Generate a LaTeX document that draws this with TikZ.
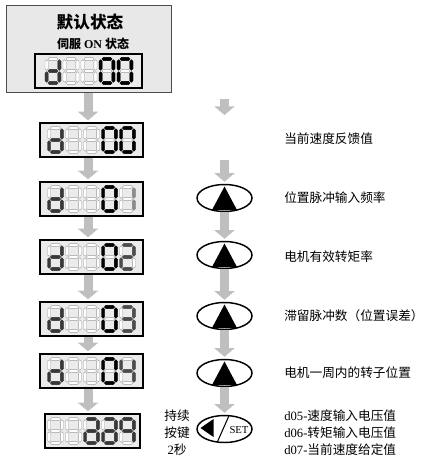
\documentclass[tikz,border=0pt]{standalone}
\usepackage{fontspec}
\setmainfont{Liberation Serif}
\newfontfamily\cjk{Noto Sans CJK SC}
\usetikzlibrary{shapes.geometric,arrows.meta,calc}

\newcommand\hsg[2]{\path[#2] (-5.2,#1) -- (-3.6,#1-1.6) -- (3.6,#1-1.6) -- (5.2,#1) -- (3.6,#1+1.6) -- (-3.6,#1+1.6) -- cycle;}
\newcommand\vsg[3]{\path[#3] (#1,#2-5.3) -- (#1+1.6,#2-3.7) -- (#1+1.6,#2+3.7) -- (#1,#2+5.3) -- (#1-1.6,#2+3.7) -- (#1-1.6,#2-3.7) -- cycle;}
\newcommand\sega[1]{\hsg{-12}{#1}}
\newcommand\segb[1]{\vsg{6.4}{-6}{#1}}
\newcommand\segc[1]{\vsg{6.4}{6}{#1}}
\newcommand\segd[1]{\hsg{12}{#1}}
\newcommand\sege[1]{\vsg{-6.4}{6}{#1}}
\newcommand\segf[1]{\vsg{-6.4}{-6}{#1}}
\newcommand\segg[1]{\hsg{0}{#1}}
\newcommand\segx[1]{}
\newcommand\sdigit[3]{\begin{scope}[shift={#1}]
  \foreach \s in {a,b,c,d,e,f,g}{\csname seg\s\endcsname{offseg}}
  \foreach \s in {#2}{\csname seg\s\endcsname{#3}}
\end{scope}}
\newcommand\blinkmarks[1]{\begin{scope}[shift={#1}, blinkmark]
  \path (-10.5,-15) -- (-7,-15) -- (-10.5,-11.5) -- cycle;
  \path (10.5,-15) -- (7,-15) -- (10.5,-11.5) -- cycle;
  \path (-10.5,15) -- (-7,15) -- (-10.5,11.5) -- cycle;
  \path (10.5,15) -- (7,15) -- (10.5,11.5) -- cycle;
  \path (-11.5,0) -- (-8.5,-2) -- (-8.5,2) -- cycle;
  \path (11.5,0) -- (8.5,-2) -- (8.5,2) -- cycle;
\end{scope}}
\newcommand\basepanel[2]{%
  \sdigit{(#1-36,#2)}{b,c,d,e,g}{darkseg}
  \sdigit{(#1-18,#2)}{x}{darkseg}
  \sdigit{(#1,#2)}{x}{darkseg}
  \sdigit{(#1+18,#2)}{a,b,c,d,e,f}{blackseg}}

\begin{document}
\begin{tikzpicture}[x=0.75pt,y=-0.75pt,
  offseg/.style={fill=white,draw=black!40,line width=0.3pt},
  blackseg/.style={fill=black,draw=black,line width=0.3pt},
  darkseg/.style={fill=black!78,draw=black!78,line width=0.3pt},
  blinkseg/.style={fill=black!70,draw=black!70,line width=0.3pt},
  lightseg/.style={fill=black!45,draw=black!45,line width=0.3pt},
  blinkmark/.style={draw=black,fill=white,line width=0.35pt},
  disp/.style={draw=black,line width=1pt,fill=black!8,inner sep=0pt,minimum height=34*0.75pt,minimum width=103*0.75pt},
  garrow/.style={draw=black!25,line width=9*0.75pt,-{Triangle[length=6.5pt,width=15pt]},shorten >=1.5pt},
  keyell/.style={ellipse,draw=black,line width=1.1pt,fill=white,inner sep=0pt,minimum width=55*0.75pt,minimum height=27*0.75pt},
  txt/.style={font=\fontsize{9.5pt}{12pt}\selectfont,inner sep=0pt}]
\useasboundingbox (0,0) rectangle (423,457);

% top box
\node[draw=black!70,line width=1.4pt,fill=black!9,minimum width=165*0.75pt,minimum height=87*0.75pt,inner sep=0pt] (top) at (89,49) {};
\node[font=\fontsize{12.5pt}{14pt}\selectfont\bfseries\cjk,inner sep=0pt] (t0) at (90,22) {默认状态};
\node[font=\fontsize{9pt}{11pt}\selectfont\bfseries,inner sep=0pt] (t00) at (93,44) {{\cjk 伺服} ON {\cjk 状态}};

% displays
\node[disp,minimum width=107*0.75pt] (d1) at (88.5,71) {};
\node[disp] (d2) at (91.5,140) {};
\node[disp] (d3) at (91.5,199) {};
\node[disp] (d4) at (91.5,257) {};
\node[disp] (d5) at (91.5,319) {};
\node[disp] (d6) at (91.5,371) {};
\node[disp,minimum width=95*0.75pt] (d7) at (92.5,431) {};

% digits
\basepanel{89}{71}
\sdigit{(89+36,71)}{a,b,c,d,e,f}{blackseg}
\basepanel{91.5}{140}
\sdigit{(91.5+36,140)}{a,b,c,d,e,f}{blackseg}
\basepanel{91.5}{199}
\sdigit{(91.5+36,199)}{b,c}{lightseg}
\blinkmarks{(91.5+36,199)}
\basepanel{91.5}{257}
\sdigit{(91.5+36,257)}{a,b,g,e,d}{blinkseg}
\blinkmarks{(91.5+36,257)}
\basepanel{91.5}{319}
\sdigit{(91.5+36,319)}{a,b,g,c,d}{blinkseg}
\blinkmarks{(91.5+36,319)}
\basepanel{91.5}{371}
\sdigit{(91.5+36,371)}{f,g,b,c}{blinkseg}
\blinkmarks{(91.5+36,371)}
\sdigit{(91.5-36,431)}{x}{darkseg}
\sdigit{(91.5-18,431)}{x}{darkseg}
\sdigit{(91.5,431)}{a,b,c,d,e,g}{darkseg}
\sdigit{(91.5+18,431)}{a,b,c,d,e,g}{darkseg}
\sdigit{(91.5+36,431)}{a,b,c,f,g}{darkseg}

% left arrows
\coordinate (ax) at (88,0);
\draw[garrow] (top.south -| ax) -- (d2.north -| ax);
\draw[garrow] (d2.south -| ax) -- (d3.north -| ax);
\draw[garrow] (d3.south -| ax) -- (d4.north -| ax);
\draw[garrow] (d4.south -| ax) -- (d5.north -| ax);
\draw[garrow] (d5.south -| ax) -- (d6.north -| ax);
\draw[garrow] (d6.south -| ax) -- (d7.north -| ax);

% key ellipses
\node[keyell] (e1) at (224.5,198) {};
\node[keyell] (e2) at (224.5,255) {};
\node[keyell] (e3) at (224.5,316) {};
\node[keyell] (e4) at (224.5,373) {};
\node[keyell] (e5) at (224.5,429) {};
\foreach \e in {e1,e2,e3,e4}{\fill (\e.center) ++(0,-11.5) -- ++(-12.5,23.5) -- ++(25,0) -- cycle;}
\begin{scope}[shift={(e5.center)}]
  \fill (-24,-1) -- (-11,-10) -- (-11,8) -- cycle;
  \draw[line width=0.8pt] (4.5,-13.3) -- (-7.2,13);
\end{scope}
\node[font=\fontsize{8pt}{9pt}\selectfont,inner sep=0pt] (set) at ($(e5.center)+(14.5,1)$) {SET};

% right arrows
\coordinate (r0) at (224.5,99);
\coordinate (r1) at (224.5,117);
\coordinate (r2) at (224.5,160);
\draw[garrow] (r0) -- (r1);
\draw[garrow] (r2) -- (e1.north);
\draw[garrow] (e1.south) -- (e2.north);
\draw[garrow] (e2.south) -- (e3.north);
\draw[garrow] (e3.south) -- (e4.north);
\draw[garrow] (e4.south) -- (e5.north);

% texts
\node[txt,anchor=west] (x1) at (284,139) {\cjk 当前速度反馈值};
\node[txt,anchor=west] (x2) at (284,198) {\cjk 位置脉冲输入频率};
\node[txt,anchor=west] (x3) at (284,257) {\cjk 电机有效转矩率};
\node[txt,anchor=west] (x4) at (284,316) {\cjk 滞留脉冲数（位置误差）};
\node[txt,anchor=west] (x5) at (284,373) {\cjk 电机一周内的转子位置};
\node[txt,anchor=west,align=left,font=\fontsize{9.5pt}{12.75pt}\selectfont] (x6) at (284,433) {d05-{\cjk 速度输入电压值}\\d06-{\cjk 转矩输入电压值}\\d07-{\cjk 当前速度给定值}};
\node[txt,align=center,font=\fontsize{9.5pt}{12.75pt}\selectfont] (hold) at (177,433) {{\cjk 持续}\\{\cjk 按键}\\2{\cjk 秒}};
\end{tikzpicture}
\end{document}
